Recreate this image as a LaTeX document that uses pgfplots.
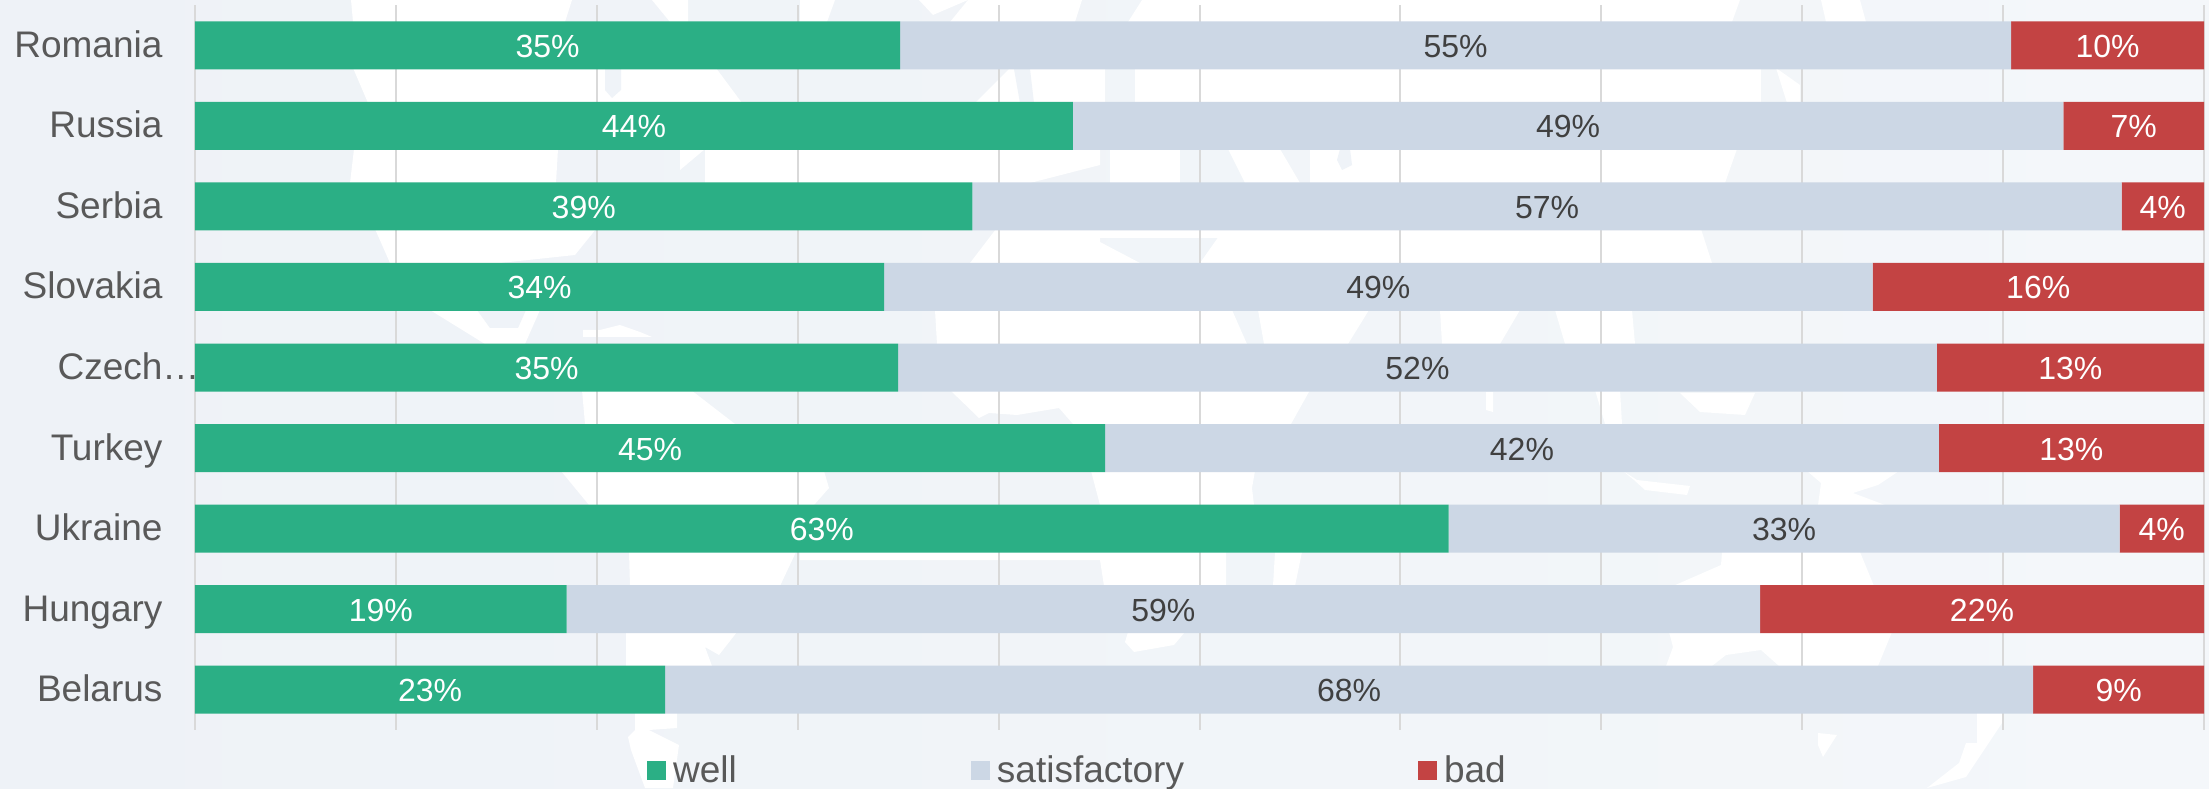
\documentclass[border=0pt]{standalone}
\usepackage{pgfplots}
\usepackage{pgfplotstable}
\pgfplotsset{compat=1.18}
\usepackage{fontspec}
\setmainfont{Liberation Sans}
\definecolor{wellc}{HTML}{2BAF85}
\definecolor{satc}{HTML}{CCD7E5}
\definecolor{badc}{HTML}{C34343}
\definecolor{txt}{HTML}{595959}
\definecolor{dark}{HTML}{404040}
\definecolor{gridc}{HTML}{D9D9D9}
\definecolor{bgleft}{HTML}{EEF2F7}
\definecolor{bgright}{HTML}{F4F7FA}
\definecolor{land}{HTML}{EFF3F8}

% share of answers per country, label is the printed percentage
\pgfplotstableread{
pos well lw sat ls bad lb
0 35.1 35\% 55.3 55\% 9.6 10\%
1 43.7 44\% 49.3 49\% 7.0 7\%
2 38.7 39\% 57.2 57\% 4.1 4\%
3 34.3 34\% 49.2 49\% 16.5 16\%
4 35.0 35\% 51.7 52\% 13.3 13\%
5 45.3 45\% 41.5 42\% 13.2 13\%
6 62.4 63\% 33.4 33\% 4.2 4\%
7 18.5 19\% 59.4 59\% 22.1 22\%
8 23.4 23\% 68.1 68\% 8.5 9\%
}\datatable

\begin{document}
\begin{tikzpicture}[x=1pt,y=1pt]
\path[use as bounding box] (-195,-58) rectangle (2014,730);
% faint world map behind the chart, coordinates in image pixels
\begin{scope}[shift={(-195,730)},yscale=-1]
\shade[left color=bgleft,right color=bgright] (0,0) rectangle (2209,788);
% white patches, row by row in the gaps between bars
\fill[white] (351,0) -- (572,0) -- (565,22) -- (353,22) -- cycle;
\fill[white] (652,0) -- (688,0) -- (688,22) -- (670,22) -- cycle;
\fill[white] (800,0) -- (835,0) -- (827,22) -- (800,22) -- cycle;
\fill[white] (919,0) -- (968,0) -- (933,15) -- cycle;
\fill[white] (968,0) -- (1082,0) -- (1075,22) -- (950,22) -- cycle;
\fill[white] (1142,0) -- (1740,0) -- (1732,22) -- (1128,22) -- cycle;
\fill[white] (1821,0) -- (1860,0) -- (1866,22) -- (1826,22) -- cycle;
\fill[white] (353,68) -- (716,68) -- (742,103) -- (368,103) -- cycle;
\fill[white] (1010,68) -- (1105,68) -- (1105,103) -- (975,103) -- cycle;
\fill[white] (1135,68) -- (1761,68) -- (1761,103) -- (1135,103) -- cycle;
\fill[white] (1776,68) -- (1800,85) -- (1800,103) -- (1787,103) -- cycle;
\fill[white] (354,149) -- (558,149) -- (556,183) -- (350,183) -- cycle;
\fill[white] (680,149) -- (705,149) -- (680,170) -- cycle;
\fill[white] (705,149) -- (1100,149) -- (1100,165) -- (1030,183) -- (705,183) -- cycle;
\fill[white] (1110,149) -- (1180,149) -- (1180,183) -- (1110,183) -- cycle;
\fill[white] (1228,149) -- (1280,149) -- (1300,183) -- (1245,183) -- cycle;
\fill[white] (1310,149) -- (1737,149) -- (1725,183) -- (1310,183) -- cycle;
\fill[white] (375,229) -- (596,229) -- (575,255) -- (500,263) -- (390,263) -- cycle;
\fill[white] (996,229) -- (1100,229) -- (1100,242) -- (1140,263) -- (970,263) -- cycle;
\fill[white] (1100,229) -- (1224,229) -- (1224,238) -- (1100,238) -- cycle;
\fill[white] (1224,229) -- (1701,229) -- (1712,263) -- (1200,263) -- cycle;
\fill[white] (430,310) -- (540,310) -- (525,344) -- (485,344) -- cycle;
\fill[white] (583,330) -- (600,330) -- (620,325) -- (640,332) -- (652,337) -- (583,337) -- cycle;
\fill[white] (935,310) -- (1232,310) -- (1247,344) -- (937,344) -- cycle;
\fill[white] (1258,310) -- (1369,310) -- (1348,344) -- (1264,344) -- cycle;
\fill[white] (1440,310) -- (1520,310) -- (1500,344) -- (1442,344) -- cycle;
\fill[white] (1555,310) -- (1632,310) -- (1635,344) -- (1565,344) -- cycle;
\fill[white] (582,390) -- (691,390) -- (735,424) -- (585,424) -- cycle;
\fill[white] (950,390) -- (1310,390) -- (1291,424) -- (1073,424) -- (1059,408) -- (1017,415) -- (989,413) -- (979,418) -- cycle;
\fill[white] (1486,392) -- (1493,392) -- (1493,412) -- (1486,410) -- cycle;
\fill[white] (1595,390) -- (1620,390) -- (1622,424) -- (1605,424) -- cycle;
\fill[white] (1680,393) -- (1755,393) -- (1745,415) -- (1700,412) -- cycle;
\fill[white] (561,471) -- (824,471) -- (829,488) -- (814,505) -- (589,505) -- cycle;
\fill[white] (1091,471) -- (1255,471) -- (1252,488) -- (1254,505) -- (1100,505) -- cycle;
\fill[white] (1623,471) -- (1637,480) -- (1690,486) -- (1687,495) -- (1645,490) -- (1634,480) -- cycle;
\fill[white] (1807,471) -- (1899,471) -- (1878,485) -- (1853,493) -- (1885,505) -- (1818,505) -- (1821,483) -- cycle;
\fill[white] (629,552) -- (796,552) -- (780,586) -- (630,586) -- cycle;
\fill[white] (800,552) -- (1226,552) -- (1226,586) -- (1104,586) -- (1100,560) -- (800,560) -- cycle;
\fill[white] (1275,552) -- (1302,552) -- (1295,586) -- (1273,586) -- cycle;
\fill[white] (1722,552) -- (1860,552) -- (1874,586) -- (1673,586) -- (1721,565) -- cycle;
\fill[white] (626,632) -- (737,632) -- (719,655) -- (705,647) -- (712,666) -- (626,666) -- cycle;
\fill[white] (1128,632) -- (1185,632) -- (1174,645) -- (1134,652) -- (1125,642) -- cycle;
\fill[white] (1669,632) -- (1892,632) -- (1878,666) -- (1779,666) -- (1761,650) -- (1726,655) -- (1712,666) -- (1666,666) -- (1673,647) -- cycle;
\fill[white] (635,713) -- (677,713) -- (677,728) -- (649,730) -- (679,745) -- (673,788) -- (645,788) -- (631,750) -- (628,737) -- (635,730) -- cycle;
\fill[white] (1977,713) -- (2002,713) -- (2002,723) -- (1966,777) -- (1927,788) -- (1959,763) -- (1966,743) -- (1977,743) -- cycle;
\fill[white] (1818,733) -- (1837,735) -- (1823,757) -- (1818,745) -- cycle;
% pale land shapes on the white
\fill[land] (605,69) -- (621,69) -- (621,90) -- (612,98) -- (605,90) -- cycle;
\fill[land] (1340,149) -- (1350,149) -- (1352,165) -- (1342,170) -- (1337,160) -- cycle;
\fill[land] (1014,69) -- (1030,69) -- (1034,103) -- (1020,103) -- cycle;
\fill[land] (477,310) -- (526,310) -- (518,328) -- (490,328) -- cycle;
\end{scope}
\begin{axis}[
  at={(0,0)}, anchor=south west,
  scale only axis, width=2009pt, height=725pt,
  xbar stacked,
  bar width=48pt,
  xmin=0, xmax=100, ymin=-0.5, ymax=8.5,
  y dir=reverse,
  axis line style={draw=none},
  xtick={0,10,...,100}, xticklabels={},
  xmajorgrids, major grid style={draw=gridc, line width=2pt},
  major tick length=0pt,
  ytick={0,...,8},
  yticklabels={Romania,Russia,Serbia,Slovakia,Czech\rlap{\ldots},Turkey,Ukraine,Hungary,Belarus},
  yticklabel style={font=\fontsize{37}{40}\selectfont, text=txt, anchor=east, xshift=-29pt,
    text height=30pt, text depth=6pt},
  point meta=explicit symbolic,
  nodes near coords,
  nodes near coords style={font=\fontsize{32}{36}\selectfont, anchor=center,
    text height=28pt, text depth=4pt},
  legend style={at={(0.2235,-0.03)}, anchor=north west, draw=none, fill=none, legend columns=3,
    font=\fontsize{37}{40}\selectfont, text=txt,
    /tikz/every even column/.style={column sep=232pt},
    /tikz/every odd column/.style={column sep=5pt}},
  legend image code/.code={\fill[#1] (0pt,-9.5pt) rectangle (19pt,9.5pt);},
]
\addplot[fill=wellc, draw=none, nodes near coords style={text=white}] table[x=well,y=pos,meta=lw] {\datatable};
\addplot[fill=satc, draw=none, nodes near coords style={text=dark}] table[x=sat,y=pos,meta=ls] {\datatable};
\addplot[fill=badc, draw=none, nodes near coords style={text=white}] table[x=bad,y=pos,meta=lb] {\datatable};
\legend{well,satisfactory,bad}
\end{axis}
\end{tikzpicture}
\end{document}
